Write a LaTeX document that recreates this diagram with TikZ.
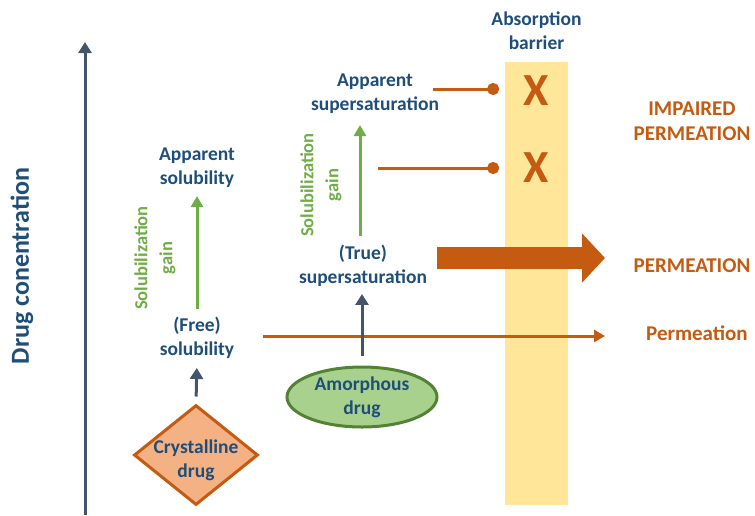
\documentclass[tikz,border=0pt]{standalone}
\usepackage{fontspec}
\setmainfont{Carlito}
\usetikzlibrary{positioning}
\usetikzlibrary{arrows.meta}
\usetikzlibrary{shapes.geometric}
\definecolor{textblue}{HTML}{1F4E79}
\definecolor{axisgray}{HTML}{44546A}
\definecolor{gaingreen}{HTML}{70AD47}
\definecolor{permorange}{HTML}{C55A11}
\definecolor{barrierfill}{HTML}{FFE699}
\definecolor{crystfill}{HTML}{F4B183}
\definecolor{amorfill}{HTML}{A9D18E}
\definecolor{amordraw}{HTML}{548235}
\tikzset{conc/.style={font=\bfseries\fontsize{19.5}{24}\selectfont,text=textblue,align=center,inner sep=0pt}}
\tikzset{gain/.style={font=\bfseries\fontsize{18.5}{25}\selectfont,text=gaingreen,align=center,rotate=90,inner sep=0pt}}
\tikzset{outcome/.style={font=\bfseries\fontsize{21}{25}\selectfont,text=permorange,align=center,inner sep=0pt}}
\tikzset{crystal/.style={diamond,draw=permorange,fill=crystfill,line width=3pt,inner sep=0pt,minimum width=124pt,minimum height=100pt}}
\tikzset{amorph/.style={conc,ellipse,draw=amordraw,fill=amorfill,line width=3pt,minimum width=150pt,minimum height=60pt}}
\tikzset{rise/.style={draw=axisgray,line width=3pt,-{Triangle[length=11pt,width=13pt]}}}
\tikzset{gainarrow/.style={draw=gaingreen,line width=3pt,-{Triangle[length=11pt,width=12pt]}}}
\tikzset{flux/.style={draw=permorange,line width=3pt,-{Triangle[length=11pt,width=12pt]}}}
\tikzset{bigflux/.style={draw=permorange,line width=22pt,-{Triangle[length=23pt,width=48pt]}}}
\tikzset{blocked/.style={draw=permorange,line width=3pt,-{Circle[length=12pt]}}}

\begin{document}
\begin{tikzpicture}[x=1pt,y=-1pt]
        \useasboundingbox (0,0) rectangle (755,515);
        % concentration axis
        \coordinate (axisbot) at (85,515);
        \coordinate (axistop) at (85,42);
            \draw[rise] (axisbot) -- (axistop);
        \node[conc,rotate=90,font=\bfseries\fontsize{26}{30}\selectfont] (axis) at (22,266) {Drug conentration};
        % absorption barrier
        \node[fill=barrierfill,minimum width=63pt,minimum height=443pt,inner sep=0pt] (barrier) at (536.5,283.5) {};
        \node[conc,above=12pt of barrier] (barriertxt) {Absorption\\barrier};
        \node[outcome,font=\bfseries\fontsize{46}{46}\selectfont] (xa) at (536,91) {X};
        \node[outcome,font=\bfseries\fontsize{46}{46}\selectfont] (xb) at (536,168) {X};
        % crystalline drug
        \node[crystal] (cryst) at (196,455) {};
        \node[conc] (crysttxt) at (196,460) {Crystalline\\drug};
        \node[conc] (freesol) at (197,338) {(Free)\\solubility};
            \draw[rise,shorten <=7pt,shorten >=9pt] (cryst.north) -- (freesol.south);
        \node[conc] (appsol) at (197,168) {Apparent\\solubility};
            \draw[gainarrow,shorten <=8pt,shorten >=8pt] (freesol.north) -- (appsol.south);
        \node[gain] (gaina) at (155,258) {Solubilization\\gain};
        % outcomes
        \node[outcome] (impaired) at (692,121) {IMPAIRED\\PERMEATION};
        \node[outcome] (bigperm) at (692,266) {PERMEATION};
        \node[outcome] (perm) at (697,333) {Permeation};
            \draw[flux,shorten <=29pt,shorten >=41pt] (freesol.east |- 0,336) -- (perm.west |- 0,336);
        % amorphous drug
        \node[amorph] (amor) at (362,397) {Amorphous\\drug};
        \node[conc] (truesup) at (363,266) {(True)\\supersaturation};
            \draw[rise,shorten <=10pt,shorten >=7pt] (amor.north -| 362,0) -- (truesup.south -| 362,0);
        \node[conc] (appsup) at (375,94) {Apparent\\supersaturation};
            \draw[gainarrow,shorten <=9pt,shorten >=11pt] (truesup.north -| 360,0) -- (appsup.south -| 360,0);
        \node[gain] (gainb) at (321,185) {Solubilization\\gain};
        \coordinate (bigstart) at (437,258);
        \coordinate (bigend) at (605,258);
            \draw[bigflux] (bigstart) -- (bigend);
        \coordinate (blockstarta) at (433,89);
        \coordinate (blockstartb) at (378,168);
            \draw[blocked,shorten >=24pt] (blockstarta) -- (xa.west |- blockstarta);
            \draw[blocked,shorten >=24pt] (blockstartb) -- (xb.west);
    \end{tikzpicture}
\end{document}
